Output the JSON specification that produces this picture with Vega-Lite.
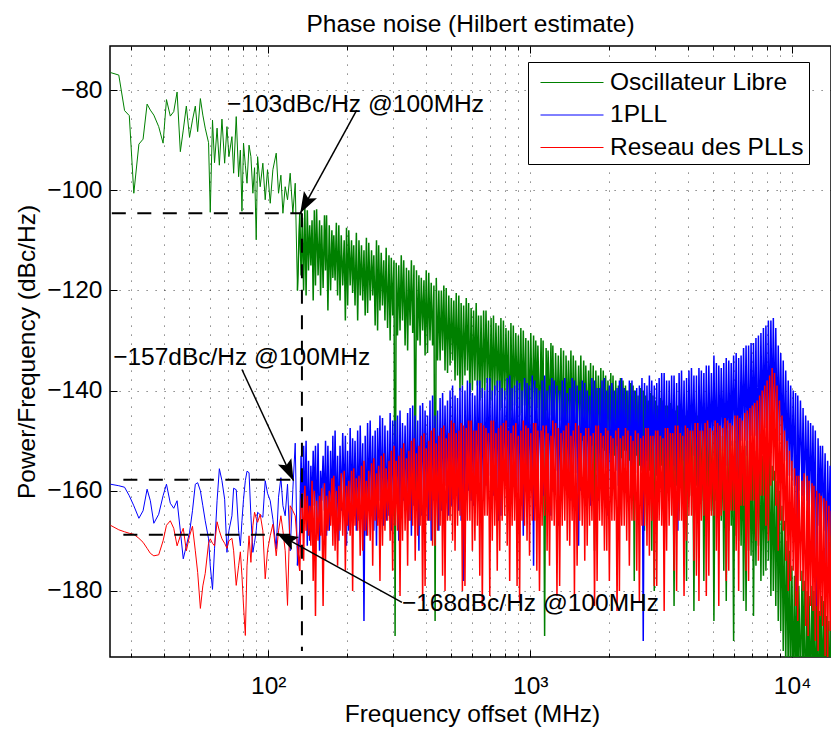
{
"$schema":"https://vega.github.io/schema/vega-lite/v6.json",
"width":721,"height":611,
"autosize":{"type":"none"},
"padding":{"left":110,"top":46,"right":0,"bottom":72},
"background":"white",
"title":{"text":"Phase noise (Hilbert estimate)","fontSize":24.5,"fontWeight":"normal","font":"Liberation Sans","color":"black","baseline":"alphabetic","offset":14,"dy":25,"anchor":"middle","frame":"group"},
"resolve":{"axis":{"x":"independent","y":"independent"}},
"config":{
"font":"Liberation Sans",
"view":{"stroke":"black","strokeWidth":1.5},
"axis":{"labelFont":"Liberation Sans","labelFontSize":24.5,"labelColor":"black","titleFont":"Liberation Sans","titleFontSize":24.5,"titleFontWeight":"normal","titleColor":"black","gridColor":"#000","gridDash":[1.2,7.8],"gridOpacity":0.6,"gridWidth":1,"tickColor":"black","tickWidth":1,"domain":false},
"legend":{"orient":"none","legendX":418,"legendY":16,"symbolType":"M-2.1,0H2.1","symbolSize":900,"symbolStrokeWidth":1,"symbolOffset":23.5,"labelOffset":22.5,"labelFontSize":24.5,"labelFont":"Liberation Sans","labelColor":"black","strokeColor":"black","fillColor":"white","padding":5,"rowPadding":5.5,"labelLimit":400}
},
"datasets":{
"noise":[
{"f":25.0,"g":-76.5,"b":-158.7,"r":-166.9},
{"f":26.9,"g":-77.0,"b":-159.0,"r":-167.8},
{"f":28.3,"g":-84.1,"b":-159.3,"r":-168.2},
{"f":29.5,"g":-85.1,"b":-161.0,"r":-168.5},
{"f":30.7,"g":-100.6,"b":-163.0,"r":-168.7},
{"f":32.1,"g":-90.8,"b":-165.5,"r":-169.5},
{"f":33.3,"g":-89.8,"b":-164.0,"r":-170.3},
{"f":34.5,"g":-82.8,"b":-159.7,"r":-171.5},
{"f":35.5,"g":-84.0,"b":-162.0,"r":-172.5},
{"f":36.6,"g":-85.0,"b":-166.5,"r":-173.0},
{"f":38.2,"g":-87.3,"b":-164.7,"r":-172.8},
{"f":39.7,"g":-90.6,"b":-161.0,"r":-170.0},
{"f":40.9,"g":-81.9,"b":-158.7,"r":-166.9},
{"f":42.3,"g":-85.2,"b":-162.5,"r":-166.0},
{"f":43.6,"g":-84.3,"b":-163.5,"r":-167.5},
{"f":44.9,"g":-80.4,"b":-162.0,"r":-171.0},
{"f":46.2,"g":-92.3,"b":-168.0,"r":-169.0},
{"f":47.4,"g":-88.0,"b":-173.6,"r":-167.5},
{"f":48.7,"g":-83.2,"b":-171.0,"r":-172.0},
{"f":50.1,"g":-89.4,"b":-168.3,"r":-169.0},
{"f":51.4,"g":-86.0,"b":-164.0,"r":-167.1},
{"f":52.7,"g":-83.2,"b":-158.7,"r":-172.0},
{"f":53.8,"g":-88.3,"b":-158.4,"r":-176.3},
{"f":55.1,"g":-81.7,"b":-160.0,"r":-183.5},
{"f":56.3,"g":-85.0,"b":-163.0,"r":-179.0},
{"f":57.5,"g":-87.6,"b":-166.0,"r":-176.5},
{"f":59.2,"g":-90.5,"b":-169.6,"r":-170.5},
{"f":60.1,"g":-104.4,"b":-175.0,"r":-169.6},
{"f":61.3,"g":-86.0,"b":-179.7,"r":-170.5},
{"f":62.4,"g":-94.5,"b":-171.6,"r":-171.0},
{"f":63.8,"g":-87.6,"b":-162.0,"r":-166.2},
{"f":65.1,"g":-95.0,"b":-155.6,"r":-168.0},
{"f":66.6,"g":-85.8,"b":-158.0,"r":-169.6},
{"f":68.2,"g":-94.6,"b":-161.7,"r":-170.5},
{"f":69.6,"g":-87.3,"b":-172.3,"r":-171.5},
{"f":70.8,"g":-93.3,"b":-168.0,"r":-170.0},
{"f":72.7,"g":-89.3,"b":-165.0,"r":-169.5},
{"f":73.8,"g":-96.6,"b":-159.5,"r":-172.0},
{"f":75.5,"g":-85.3,"b":-159.8,"r":-178.9},
{"f":77.1,"g":-97.3,"b":-168.0,"r":-175.0},
{"f":78.3,"g":-92.0,"b":-171.0,"r":-172.2},
{"f":79.4,"g":-104.2,"b":-166.0,"r":-177.0},
{"f":80.5,"g":-90.6,"b":-161.7,"r":-183.0},
{"f":81.8,"g":-95.0,"b":-158.0,"r":-188.9},
{"f":83.0,"g":-98.6,"b":-156.1,"r":-175.0},
{"f":84.5,"g":-91.0,"b":-156.4,"r":-169.0},
{"f":85.9,"g":-93.3,"b":-165.0,"r":-174.3},
{"f":87.4,"g":-100.6,"b":-172.3,"r":-167.0},
{"f":88.7,"g":-95.5,"b":-170.3,"r":-164.3},
{"f":90.0,"g":-109.9,"b":-168.0,"r":-165.5},
{"f":91.1,"g":-93.3,"b":-164.3,"r":-166.3},
{"f":93.2,"g":-99.3,"b":-164.8,"r":-164.7},
{"f":95.4,"g":-94.6,"b":-165.3,"r":-168.0},
{"f":97.4,"g":-101.9,"b":-158.0,"r":-177.6},
{"f":99.4,"g":-95.9,"b":-160.5,"r":-172.0},
{"f":101.8,"g":-102.6,"b":-162.0,"r":-169.0},
{"f":104.2,"g":-95.9,"b":-165.7,"r":-166.7},
{"f":107.3,"g":-92.6,"b":-171.6,"r":-173.0},
{"f":109.5,"g":-100.6,"b":-161.3,"r":-168.0},
{"f":111.8,"g":-97.0,"b":-157.4,"r":-165.0},
{"f":113.8,"g":-104.6,"b":-163.0,"r":-168.0},
{"f":116.1,"g":-99.3,"b":-165.0,"r":-172.0},
{"f":118.5,"g":-101.9,"b":-158.7,"r":-182.9},
{"f":121.3,"g":-96.6,"b":-172.0,"r":-163.0},
{"f":124.2,"g":-104.6,"b":-159.7,"r":-164.0},
{"f":126.8,"g":-98.6,"b":-150.5,"r":-165.0},
{"f":129.3,"g":-120.0,"b":-174.9,"r":-171.0},
{"f":132,"g":-104.6,"b":-168,"r":-176},
{"f":133.5,"g":-117,"b":-153,"r":-162},
{"f":135,"g":-105.5,"b":-166,"r":-160.5},
{"f":136.5,"g":-120,"b":-151,"r":-174},
{"f":138,"g":-103.5,"b":-165,"r":-159},
{"f":139.5,"g":-121,"b":-150,"r":-168},
{"f":141,"g":-104,"b":-171,"r":-161},
{"f":142.5,"g":-116,"b":-154,"r":-169},
{"f":144,"g":-107,"b":-170,"r":-163},
{"f":145.5,"g":-115,"b":-155,"r":-171},
{"f":147,"g":-106,"b":-164,"r":-158},
{"f":148.5,"g":-122,"b":-152,"r":-178},
{"f":150,"g":-104,"b":-163,"r":-160},
{"f":151.5,"g":-119,"b":-151,"r":-185},
{"f":153,"g":-103.8,"b":-168,"r":-162},
{"f":155,"g":-117,"b":-150.5,"r":-170},
{"f":157,"g":-106,"b":-172,"r":-161},
{"f":158.5,"g":-121,"b":-156,"r":-169},
{"f":160,"g":-107,"b":-162,"r":-159.5},
{"f":162,"g":-119.5,"b":-153,"r":-183},
{"f":164,"g":-105,"b":-164,"r":-158.5},
{"f":165.5,"g":-116,"b":-150,"r":-174},
{"f":167,"g":-105,"b":-169,"r":-161},
{"f":169,"g":-124,"b":-151,"r":-168},
{"f":171,"g":-107,"b":-168,"r":-160},
{"f":173,"g":-120,"b":-152,"r":-167},
{"f":175,"g":-108,"b":-165,"r":-157.5},
{"f":176.5,"g":-117.5,"b":-149,"r":-171},
{"f":178,"g":-109,"b":-166,"r":-157},
{"f":180,"g":-118,"b":-148,"r":-172},
{"f":182,"g":-106.5,"b":-167,"r":-160},
{"f":184,"g":-121,"b":-153,"r":-175},
{"f":186,"g":-107,"b":-170,"r":-159},
{"f":188,"g":-122,"b":-151,"r":-168},
{"f":190,"g":-109,"b":-164,"r":-156.5},
{"f":192.5,"g":-119,"b":-148.5,"r":-169},
{"f":195,"g":-110,"b":-163,"r":-156},
{"f":197,"g":-126,"b":-149,"r":-176},
{"f":199,"g":-107.5,"b":-171,"r":-159},
{"f":201,"g":-123,"b":-152,"r":-167},
{"f":203,"g":-108,"b":-168,"r":-158},
{"f":205.5,"g":-119,"b":-147.5,"r":-169},
{"f":208,"g":-110,"b":-165,"r":-156},
{"f":210,"g":-120.5,"b":-149.5,"r":-180},
{"f":212,"g":-111,"b":-165,"r":-155.5},
{"f":214.5,"g":-123,"b":-150,"r":-167},
{"f":217,"g":-108.5,"b":-168,"r":-157.5},
{"f":219.5,"g":-126,"b":-148,"r":-168},
{"f":222,"g":-110,"b":-166,"r":-157},
{"f":224.5,"g":-121,"b":-147,"r":-173},
{"f":227,"g":-111,"b":-163,"r":-155},
{"f":229.5,"g":-122,"b":-150.5,"r":-172},
{"f":232,"g":-112,"b":-186,"r":-154},
{"f":234.5,"g":-125,"b":-149,"r":-168},
{"f":237,"g":-109.5,"b":-169,"r":-158},
{"f":239.5,"g":-124.5,"b":-146.5,"r":-169},
{"f":242,"g":-110.5,"b":-164,"r":-156},
{"f":245,"g":-122,"b":-146,"r":-170},
{"f":248,"g":-112,"b":-165,"r":-154.5},
{"f":250.5,"g":-121,"b":-149,"r":-175},
{"f":253,"g":-113,"b":-168,"r":-153.5},
{"f":256,"g":-127,"b":-148,"r":-166},
{"f":259,"g":-110,"b":-171,"r":-156.5},
{"f":261.5,"g":-128,"b":-147.5,"r":-167},
{"f":264,"g":-111,"b":-162,"r":-155},
{"f":267,"g":-124,"b":-145,"r":-178},
{"f":270,"g":-112.5,"b":-164,"r":-153},
{"f":273,"g":-123,"b":-145.5,"r":-171},
{"f":276,"g":-114,"b":-167,"r":-152.5},
{"f":279,"g":-126,"b":-147,"r":-168},
{"f":282,"g":-111.5,"b":-166,"r":-155.5},
{"f":285.5,"g":-127.5,"b":-148,"r":-166},
{"f":289,"g":-113,"b":-165,"r":-154},
{"f":292,"g":-130,"b":-144.5,"r":-170},
{"f":295,"g":-113.5,"b":-168,"r":-152},
{"f":298.5,"g":-125,"b":-146,"r":-176},
{"f":302,"g":-114,"b":-163,"r":-151},
{"f":305,"g":-189,"b":-146,"r":-167},
{"f":308,"g":-114.5,"b":-162,"r":-154},
{"f":311.5,"g":-129,"b":-145,"r":-168},
{"f":315,"g":-115,"b":-170,"r":-153},
{"f":318.5,"g":-128,"b":-144,"r":-181},
{"f":322,"g":-113,"b":-165,"r":-151.5},
{"f":325.5,"g":-126,"b":-146.5,"r":-170},
{"f":329,"g":-114,"b":-162,"r":-150.5},
{"f":333,"g":-131,"b":-147,"r":-168},
{"f":337,"g":-115.5,"b":-163,"r":-153.5},
{"f":340.5,"g":-132,"b":-144.5,"r":-175},
{"f":344,"g":-116,"b":-166,"r":-152},
{"f":348,"g":-127,"b":-143.5,"r":-166},
{"f":352,"g":-114,"b":-169,"r":-150},
{"f":356,"g":-128.5,"b":-143,"r":-167},
{"f":360,"g":-115,"b":-163,"r":-149.5},
{"f":364,"g":-162,"b":-145,"r":-174},
{"f":368,"g":-116,"b":-161,"r":-152.5},
{"f":372,"g":-130,"b":-146,"r":-169},
{"f":376,"g":-117,"b":-172,"r":-151},
{"f":380,"g":-131,"b":-143,"r":-167},
{"f":384,"g":-117.5,"b":-165,"r":-149},
{"f":388.5,"g":-128,"b":-142.5,"r":-182},
{"f":393,"g":-118,"b":-161,"r":-148.5},
{"f":397,"g":-133,"b":-144,"r":-179},
{"f":401,"g":-116,"b":-162,"r":-151.5},
{"f":405.5,"g":-132.5,"b":-145,"r":-166},
{"f":410,"g":-116.5,"b":-166,"r":-150},
{"f":414.5,"g":-130,"b":-142,"r":-166},
{"f":419,"g":-118.5,"b":-170,"r":-148},
{"f":424,"g":-131,"b":-141,"r":-171},
{"f":429,"g":-119,"b":-162,"r":-147.5},
{"f":433.5,"g":-186,"b":-145,"r":-171},
{"f":438,"g":-117.5,"b":-161,"r":-150.5},
{"f":443,"g":-134,"b":-144,"r":-168},
{"f":448,"g":-120,"b":-168,"r":-149},
{"f":453,"g":-134,"b":-141.5,"r":-167},
{"f":458,"g":-120,"b":-164,"r":-147.5},
{"f":463,"g":-132,"b":-140.5,"r":-177},
{"f":468,"g":-119,"b":-160,"r":-147},
{"f":473,"g":-136,"b":-143,"r":-180},
{"f":478,"g":-119.5,"b":-159,"r":-149.5},
{"f":483.5,"g":-136.5,"b":-142,"r":-166},
{"f":489,"g":-121,"b":-165,"r":-148.5},
{"f":494.5,"g":-135,"b":-140,"r":-166},
{"f":500,"g":-121.5,"b":-163,"r":-146},
{"f":505.5,"g":-134,"b":-139,"r":-170},
{"f":511,"g":-122,"b":-161,"r":-146.5},
{"f":516.5,"g":-138,"b":-141,"r":-172},
{"f":522,"g":-120.5,"b":-160,"r":-148.5},
{"f":528,"g":-137,"b":-141.5,"r":-167},
{"f":534,"g":-121,"b":-164,"r":-148},
{"f":539.5,"g":-140,"b":-139.5,"r":-165},
{"f":545,"g":-122.5,"b":-166,"r":-146.5},
{"f":551,"g":-139,"b":-139,"r":-180},
{"f":557,"g":-123,"b":-178,"r":-147},
{"f":563.5,"g":-137,"b":-140,"r":-179},
{"f":570,"g":-121.5,"b":-159,"r":-147.5},
{"f":576,"g":-136,"b":-138,"r":-166},
{"f":582,"g":-122.5,"b":-160,"r":-146},
{"f":588.5,"g":-141,"b":-138.5,"r":-166},
{"f":595,"g":-123.5,"b":-162,"r":-146},
{"f":601.5,"g":-140,"b":-140.5,"r":-172},
{"f":608,"g":-124,"b":-163,"r":-148},
{"f":615,"g":-138,"b":-141,"r":-170},
{"f":622,"g":-122.5,"b":-157.5,"r":-148},
{"f":628.5,"g":-139,"b":-138,"r":-167},
{"f":635,"g":-125,"b":-158,"r":-146.5},
{"f":642,"g":-142,"b":-138,"r":-177},
{"f":649,"g":-125,"b":-164,"r":-146.5},
{"f":656.5,"g":-141.5,"b":-139.5,"r":-183},
{"f":664,"g":-124,"b":-162,"r":-147},
{"f":671,"g":-140,"b":-140,"r":-165},
{"f":678,"g":-124,"b":-159,"r":-147.5},
{"f":685.5,"g":-138.5,"b":-137.5,"r":-165},
{"f":693,"g":-126,"b":-157,"r":-148.5},
{"f":701,"g":-143,"b":-137.5,"r":-181},
{"f":709,"g":-125.5,"b":-162,"r":-146},
{"f":716.5,"g":-142,"b":-140,"r":-170},
{"f":724,"g":-125,"b":-161,"r":-146},
{"f":732,"g":-141,"b":-139,"r":-167},
{"f":740,"g":-126.5,"b":-158,"r":-148.5},
{"f":748.5,"g":-140,"b":-138,"r":-176},
{"f":757,"g":-127,"b":-166,"r":-147.5},
{"f":765,"g":-144,"b":-138,"r":-172},
{"f":773,"g":-125.5,"b":-165,"r":-147},
{"f":781.5,"g":-143.5,"b":-139.5,"r":-166},
{"f":790,"g":-126,"b":-158,"r":-146.5},
{"f":799,"g":-142,"b":-140,"r":-165},
{"f":808,"g":-127.5,"b":-157,"r":-146},
{"f":817,"g":-141,"b":-137.5,"r":-171},
{"f":826,"g":-128,"b":-163,"r":-148},
{"f":835,"g":-152,"b":-137,"r":-178},
{"f":844,"g":-126.5,"b":-161,"r":-148.5},
{"f":853,"g":-144,"b":-139.5,"r":-167},
{"f":862,"g":-127,"b":-157,"r":-147},
{"f":871.5,"g":-143,"b":-139,"r":-166},
{"f":881,"g":-128.5,"b":-158.5,"r":-146.5},
{"f":891,"g":-142.5,"b":-138,"r":-179},
{"f":901,"g":-129,"b":-160,"r":-149},
{"f":911,"g":-145,"b":-138.5,"r":-182},
{"f":921,"g":-127.5,"b":-163,"r":-148},
{"f":931,"g":-144.5,"b":-140,"r":-166},
{"f":941,"g":-128,"b":-169,"r":-146},
{"f":951.5,"g":-143,"b":-137.5,"r":-167},
{"f":962,"g":-129.5,"b":-157,"r":-147},
{"f":972.5,"g":-160,"b":-138.5,"r":-170},
{"f":983,"g":-130,"b":-158,"r":-147.5},
{"f":994,"g":-146,"b":-139,"r":-173},
{"f":1005,"g":-128.5,"b":-160,"r":-148.5},
{"f":1018,"g":-145,"b":-137,"r":-166},
{"f":1030,"g":-129,"b":-175,"r":-146.5},
{"f":1040,"g":-144,"b":-138,"r":-166},
{"f":1050,"g":-130,"b":-156.5,"r":-146.5},
{"f":1060,"g":-143.5,"b":-139.5,"r":-176},
{"f":1070,"g":-131,"b":-157,"r":-148},
{"f":1085,"g":-147,"b":-140,"r":-180},
{"f":1100,"g":-129.5,"b":-162,"r":-148},
{"f":1110,"g":-146.5,"b":-138,"r":-167},
{"f":1120,"g":-130,"b":-161,"r":-147},
{"f":1135,"g":-189,"b":-137,"r":-165},
{"f":1150,"g":-131.5,"b":-158,"r":-147},
{"f":1160,"g":-144,"b":-140,"r":-172},
{"f":1170,"g":-132,"b":-156,"r":-148.5},
{"f":1185,"g":-145,"b":-139,"r":-175},
{"f":1200,"g":-130.5,"b":-165,"r":-149},
{"f":1210,"g":-147.5,"b":-137.5,"r":-166},
{"f":1220,"g":-131,"b":-160,"r":-146},
{"f":1235,"g":-148,"b":-138,"r":-167},
{"f":1250,"g":-132.5,"b":-156,"r":-146.5},
{"f":1265,"g":-145.5,"b":-139,"r":-181},
{"f":1280,"g":-133,"b":-167,"r":-147.5},
{"f":1295,"g":-146,"b":-140,"r":-179},
{"f":1310,"g":-131.5,"b":-159,"r":-148.5},
{"f":1325,"g":-148,"b":-138,"r":-167},
{"f":1340,"g":-132,"b":-157,"r":-148},
{"f":1355,"g":-160,"b":-137.5,"r":-166},
{"f":1370,"g":-133,"b":-157,"r":-147},
{"f":1385,"g":-146.5,"b":-140.5,"r":-170},
{"f":1400,"g":-134,"b":-159,"r":-146.5},
{"f":1415,"g":-147,"b":-139.5,"r":-171},
{"f":1430,"g":-132,"b":-162,"r":-149},
{"f":1445,"g":-149,"b":-137.5,"r":-166},
{"f":1460,"g":-133,"b":-156,"r":-148},
{"f":1475,"g":-149,"b":-138,"r":-181},
{"f":1490,"g":-134,"b":-156.5,"r":-146.5},
{"f":1510,"g":-147.5,"b":-139,"r":-175},
{"f":1530,"g":-135,"b":-171,"r":-147},
{"f":1545,"g":-148,"b":-140,"r":-166},
{"f":1560,"g":-133,"b":-160,"r":-148.5},
{"f":1580,"g":-150,"b":-138,"r":-167},
{"f":1600,"g":-134,"b":-157,"r":-149},
{"f":1615,"g":-150,"b":-138.5,"r":-174},
{"f":1630,"g":-135,"b":-157,"r":-147.5},
{"f":1650,"g":-148,"b":-140,"r":-171},
{"f":1670,"g":-136,"b":-160,"r":-147.5},
{"f":1685,"g":-149,"b":-141,"r":-167},
{"f":1700,"g":-134.5,"b":-163,"r":-149},
{"f":1720,"g":-151,"b":-137.5,"r":-166},
{"f":1740,"g":-135,"b":-155,"r":-148.5},
{"f":1760,"g":-172,"b":-138,"r":-183},
{"f":1780,"g":-136,"b":-156,"r":-147},
{"f":1800,"g":-149,"b":-139.5,"r":-178},
{"f":1820,"g":-137,"b":-162,"r":-147},
{"f":1840,"g":-150,"b":-139.5,"r":-166},
{"f":1860,"g":-135.5,"b":-159,"r":-148.5},
{"f":1880,"g":-151.5,"b":-138,"r":-167},
{"f":1900,"g":-136,"b":-157,"r":-149},
{"f":1920,"g":-152,"b":-137.5,"r":-172},
{"f":1940,"g":-137,"b":-155.5,"r":-147.5},
{"f":1960,"g":-150,"b":-140,"r":-172},
{"f":1980,"g":-138,"b":-165,"r":-148},
{"f":2005,"g":-151,"b":-139,"r":-178},
{"f":2030,"g":-136.5,"b":-161,"r":-149},
{"f":2050,"g":-153,"b":-138.5,"r":-166},
{"f":2070,"g":-137,"b":-156,"r":-149.5},
{"f":2095,"g":-153,"b":-140,"r":-166},
{"f":2120,"g":-138,"b":-156,"r":-148},
{"f":2145,"g":-151,"b":-139.5,"r":-184},
{"f":2170,"g":-139,"b":-159,"r":-147.5},
{"f":2190,"g":-165,"b":-138,"r":-180},
{"f":2210,"g":-137.5,"b":-158,"r":-149.5},
{"f":2235,"g":-153.5,"b":-137.5,"r":-167},
{"f":2260,"g":-138,"b":-155,"r":-149},
{"f":2285,"g":-152,"b":-139.5,"r":-167},
{"f":2310,"g":-139,"b":-155,"r":-147.5},
{"f":2335,"g":-152,"b":-140,"r":-170},
{"f":2360,"g":-140,"b":-161,"r":-148},
{"f":2390,"g":-154,"b":-138,"r":-175},
{"f":2420,"g":-138.5,"b":-160,"r":-149},
{"f":2445,"g":-155,"b":-138,"r":-166},
{"f":2470,"g":-139,"b":-156,"r":-150},
{"f":2495,"g":-178,"b":-140,"r":-166},
{"f":2520,"g":-140,"b":-156.5,"r":-148},
{"f":2550,"g":-153,"b":-139.5,"r":-176},
{"f":2580,"g":-141,"b":-158,"r":-148.5},
{"f":2610,"g":-155,"b":-139,"r":-182},
{"f":2640,"g":-139.5,"b":-155,"r":-149.5},
{"f":2670,"g":-156,"b":-137.5,"r":-167},
{"f":2700,"g":-140,"b":-190,"r":-149},
{"f":2730,"g":-168,"b":-138.5,"r":-167},
{"f":2760,"g":-141,"b":-159,"r":-147.5},
{"f":2790,"g":-154,"b":-139,"r":-171},
{"f":2820,"g":-142,"b":-157,"r":-147.5},
{"f":2850,"g":-156,"b":-137,"r":-173},
{"f":2880,"g":-140.5,"b":-154.5,"r":-149},
{"f":2910,"g":-172,"b":-138,"r":-166},
{"f":2940,"g":-141,"b":-155,"r":-149},
{"f":2975,"g":-180,"b":-139,"r":-179},
{"f":3010,"g":-142,"b":-157,"r":-148},
{"f":3040,"g":-157,"b":-138.5,"r":-179},
{"f":3070,"g":-143,"b":-160,"r":-148},
{"f":3105,"g":-157,"b":-137.5,"r":-166},
{"f":3140,"g":-141.5,"b":-155,"r":-149},
{"f":3175,"g":-155,"b":-136.5,"r":-167},
{"f":3210,"g":-142,"b":-154,"r":-149.5},
{"f":3245,"g":-170,"b":-136.5,"r":-184},
{"f":3280,"g":-143,"b":-160,"r":-147.5},
{"f":3315,"g":-158,"b":-138,"r":-172},
{"f":3350,"g":-143,"b":-158,"r":-147.5},
{"f":3390,"g":-158,"b":-138,"r":-167},
{"f":3430,"g":-142.5,"b":-154,"r":-148.5},
{"f":3465,"g":-156.5,"b":-137,"r":-165},
{"f":3500,"g":-144,"b":-155,"r":-148.5},
{"f":3540,"g":-183,"b":-137,"r":-176},
{"f":3580,"g":-144,"b":-156,"r":-147},
{"f":3620,"g":-159,"b":-138.5,"r":-180},
{"f":3660,"g":-143,"b":-168,"r":-147},
{"f":3700,"g":-159,"b":-136.5,"r":-166},
{"f":3740,"g":-143.5,"b":-153.5,"r":-148.5},
{"f":3780,"g":-157.5,"b":-136,"r":-166},
{"f":3820,"g":-145,"b":-154,"r":-149},
{"f":3865,"g":-175,"b":-138,"r":-181},
{"f":3910,"g":-145,"b":-158,"r":-147},
{"f":3950,"g":-178,"b":-137.5,"r":-170},
{"f":3990,"g":-144,"b":-157,"r":-147.5},
{"f":4035,"g":-160,"b":-136,"r":-165},
{"f":4080,"g":-144.5,"b":-154,"r":-148},
{"f":4125,"g":-161,"b":-135.5,"r":-165},
{"f":4170,"g":-146,"b":-153,"r":-148},
{"f":4215,"g":-184,"b":-137,"r":-174},
{"f":4260,"g":-146,"b":-155.5,"r":-146.5},
{"f":4310,"g":-159,"b":-137,"r":-177},
{"f":4360,"g":-145,"b":-162,"r":-146.5},
{"f":4405,"g":-161,"b":-135.5,"r":-182},
{"f":4450,"g":-145.5,"b":-153,"r":-148},
{"f":4500,"g":-162,"b":-136,"r":-166},
{"f":4550,"g":-147,"b":-154,"r":-148},
{"f":4600,"g":-178,"b":-136.5,"r":-165},
{"f":4650,"g":-147,"b":-157,"r":-146.5},
{"f":4700,"g":-160,"b":-135,"r":-181},
{"f":4750,"g":-146,"b":-156,"r":-146},
{"f":4805,"g":-163,"b":-135,"r":-177},
{"f":4860,"g":-146.5,"b":-152.5,"r":-147.5},
{"f":4915,"g":-164,"b":-136.5,"r":-165},
{"f":4970,"g":-148,"b":-153,"r":-148},
{"f":5025,"g":-186,"b":-133,"r":-165},
{"f":5080,"g":-148,"b":-155,"r":-146},
{"f":5135,"g":-162,"b":-134.5,"r":-172},
{"f":5190,"g":-147,"b":-158,"r":-146.5},
{"f":5245,"g":-165,"b":-135,"r":-183},
{"f":5300,"g":-147.5,"b":-151.5,"r":-147},
{"f":5360,"g":-166,"b":-135.5,"r":-165},
{"f":5420,"g":-149,"b":-152,"r":-147.5},
{"f":5480,"g":-176,"b":-134.5,"r":-164},
{"f":5540,"g":-149,"b":-157,"r":-145.5},
{"f":5600,"g":-182,"b":-133.5,"r":-178},
{"f":5660,"g":-148,"b":-155,"r":-146},
{"f":5725,"g":-168,"b":-134,"r":-176},
{"f":5790,"g":-148.5,"b":-152,"r":-146.5},
{"f":5850,"g":-167,"b":-134.5,"r":-164},
{"f":5910,"g":-150,"b":-151,"r":-147},
{"f":5975,"g":-190,"b":-133,"r":-164},
{"f":6040,"g":-150,"b":-150.5,"r":-145},
{"f":6110,"g":-169,"b":-132.5,"r":-172},
{"f":6180,"g":-149,"b":-160,"r":-145},
{"f":6245,"g":-170,"b":-133.5,"r":-180},
{"f":6310,"g":-149.5,"b":-155,"r":-145.5},
{"f":6380,"g":-171,"b":-133,"r":-163},
{"f":6450,"g":-151,"b":-150,"r":-146},
{"f":6520,"g":-182,"b":-131.5,"r":-163},
{"f":6590,"g":-151,"b":-150,"r":-144.5},
{"f":6665,"g":-184,"b":-131,"r":-176},
{"f":6740,"g":-150,"b":-153,"r":-144},
{"f":6815,"g":-172,"b":-131,"r":-178},
{"f":6890,"g":-150.5,"b":-153,"r":-143.5},
{"f":6965,"g":-173,"b":-130.5,"r":-162},
{"f":7040,"g":-152,"b":-149,"r":-143},
{"f":7115,"g":-185,"b":-130.5,"r":-162},
{"f":7190,"g":-152,"b":-149,"r":-142.5},
{"f":7270,"g":-175,"b":-129.5,"r":-170},
{"f":7350,"g":-151,"b":-155,"r":-142},
{"f":7430,"g":-171,"b":-129,"r":-174},
{"f":7510,"g":-151.5,"b":-152,"r":-141},
{"f":7595,"g":-178,"b":-128.5,"r":-161},
{"f":7680,"g":-153,"b":-148,"r":-140},
{"f":7765,"g":-177,"b":-127.5,"r":-161},
{"f":7850,"g":-153,"b":-147.5,"r":-139},
{"f":7935,"g":-176,"b":-127,"r":-167},
{"f":8020,"g":-152,"b":-151,"r":-138},
{"f":8110,"g":-174,"b":-126,"r":-170},
{"f":8200,"g":-152.5,"b":-149,"r":-137},
{"f":8290,"g":-181,"b":-126,"r":-159},
{"f":8380,"g":-155,"b":-146,"r":-135.5},
{"f":8470,"g":-180,"b":-125.5,"r":-158},
{"f":8560,"g":-156,"b":-147,"r":-136.5},
{"f":8655,"g":-183,"b":-127.5,"r":-163},
{"f":8750,"g":-158,"b":-150,"r":-139},
{"f":8845,"g":-186,"b":-131,"r":-172},
{"f":8940,"g":-160,"b":-150,"r":-142},
{"f":9040,"g":-188,"b":-132.5,"r":-166},
{"f":9140,"g":-163,"b":-153,"r":-145},
{"f":9240,"g":-192,"b":-134,"r":-168},
{"f":9340,"g":-166,"b":-154,"r":-148},
{"f":9445,"g":-195,"b":-136,"r":-174},
{"f":9550,"g":-170,"b":-156,"r":-150},
{"f":9655,"g":-198,"b":-138,"r":-180},
{"f":9760,"g":-172,"b":-157,"r":-152},
{"f":9865,"g":-199,"b":-139,"r":-178},
{"f":9970,"g":-175,"b":-158,"r":-154},
{"f":10085,"g":-200,"b":-140,"r":-176},
{"f":10200,"g":-177,"b":-159,"r":-155.5},
{"f":10300,"g":-202,"b":-140.5,"r":-183},
{"f":10400,"g":-178,"b":-180,"r":-157},
{"f":10500,"g":-203,"b":-141,"r":-186},
{"f":10600,"g":-179,"b":-160,"r":-157},
{"f":10750,"g":-199,"b":-142,"r":-178},
{"f":10900,"g":-176,"b":-161,"r":-158},
{"f":11000,"g":-200,"b":-143.5,"r":-180},
{"f":11100,"g":-178,"b":-163,"r":-156.5},
{"f":11250,"g":-204,"b":-145,"r":-187},
{"f":11400,"g":-180,"b":-162,"r":-157},
{"f":11500,"g":-205,"b":-146,"r":-189},
{"f":11600,"g":-181,"b":-165,"r":-158},
{"f":11750,"g":-201,"b":-146.5,"r":-183},
{"f":11900,"g":-179,"b":-164,"r":-158.5},
{"f":12000,"g":-200,"b":-147,"r":-184},
{"f":12100,"g":-180,"b":-166.5,"r":-159},
{"f":12250,"g":-203,"b":-148,"r":-190},
{"f":12400,"g":-183,"b":-183,"r":-160},
{"f":12550,"g":-204,"b":-149.5,"r":-192},
{"f":12700,"g":-184,"b":-167,"r":-160.5},
{"f":12800,"g":-205,"b":-151,"r":-185},
{"f":12900,"g":-181,"b":-166,"r":-161},
{"f":13050,"g":-201,"b":-151,"r":-187},
{"f":13200,"g":-182,"b":-168,"r":-161.5},
{"f":13350,"g":-207,"b":-152.5,"r":-193},
{"f":13500,"g":-185,"b":-178,"r":-162},
{"f":13650,"g":-206,"b":-154,"r":-195},
{"f":13800,"g":-186,"b":-170,"r":-163},
{"f":13950,"g":-204,"b":-155,"r":-188},
{"f":14100,"g":-184,"b":-169,"r":-164}
],
"dashes":[
{"x1":25.3,"x2":134.5,"y1":-104.6,"y2":-104.6},
{"x1":134.5,"x2":134.5,"y1":-104.6,"y2":-192},
{"x1":28,"x2":134.5,"y1":-157.8,"y2":-157.8},
{"x1":28,"x2":134.5,"y1":-168.8,"y2":-168.8}
],
"arrows":[
{"id":"a1","x1":217.7,"y1":-84.0,"x2":132.5,"y2":-104.6},
{"id":"a2","x1":79.4,"y1":-135.8,"x2":124.9,"y2":-158.0},
{"id":"a3","x1":323.9,"y1":-182.3,"x2":107.9,"y2":-168.5}
],
"labels":[
{"x":69.6,"y":-84.3,"t":"−103dBc/Hz @100MHz"},
{"x":25.6,"y":-134.8,"t":"−157dBc/Hz @100MHz"},
{"x":323.9,"y":-184.1,"t":"−168dBc/Hz @100MHz"}
]
},
"layer":[
{"data":{"name":"noise"},
"transform":[{"filter":"datum.f <= 132"}],
"mark":{"type":"line","strokeWidth":1,"clip":true},
"encoding":{
"x":{"field":"f","type":"quantitative","scale":{"type":"log","domain":[24.9,14060],"nice":false},
"axis":{"orient":"bottom","values":[30,40,50,60,70,80,90,100,200,300,400,500,600,700,800,900,1000,2000,3000,4000,5000,6000,7000,8000,9000,10000],"grid":true,
"tickSize":{"condition":{"test":"datum.value==100||datum.value==1000||datum.value==10000","value":-7},"value":-4},
"labelExpr":"datum.value==100?'10²':datum.value==1000?'10³':datum.value==10000?'10⁴':''",
"labelBaseline":"alphabetic","labelPadding":43.5,"labelFlush":false,"labelOverlap":false,
"title":"Frequency offset (MHz)","titleX":362,"titleY":64,"titleBaseline":"alphabetic","titleAlign":"center"}},
"y":{"field":"g","type":"quantitative","scale":{"domain":[-193.2,-71.2],"nice":false,"zero":false},
"axis":{"orient":"left","values":[-180,-160,-140,-120,-100,-80],"grid":true,"tickSize":-7,"labelPadding":15,
"title":"Power/Frequency (dBc/Hz)","titleX":-76,"titleY":305.5,"titleAngle":270,"titleAlign":"center","titleBaseline":"alphabetic"}},
"color":{"datum":"Oscillateur Libre","type":"nominal","scale":{"domain":["Oscillateur Libre","1PLL","Reseau des PLLs"],"range":["#008000","#0000ff","#ff0000"]},"legend":{"title":null,"symbolStrokeWidth":1}}
}},
{"data":{"name":"noise"},
"transform":[{"filter":"datum.f >= 129"}],
"mark":{"type":"line","strokeWidth":1.5,"clip":true},
"encoding":{
"x":{"field":"f","type":"quantitative","scale":{"type":"log","domain":[24.9,14060],"nice":false},"axis":null},
"y":{"field":"g","type":"quantitative","scale":{"domain":[-193.2,-71.2],"nice":false,"zero":false},"axis":null},
"color":{"datum":"Oscillateur Libre","type":"nominal","scale":{"domain":["Oscillateur Libre","1PLL","Reseau des PLLs"],"range":["#008000","#0000ff","#ff0000"]},"legend":null}
}},
{"data":{"name":"noise"},
"transform":[{"filter":"datum.f <= 132"}],
"mark":{"type":"line","strokeWidth":1,"clip":true},
"encoding":{
"x":{"field":"f","type":"quantitative","scale":{"type":"log","domain":[24.9,14060],"nice":false},"axis":null},
"y":{"field":"b","type":"quantitative","scale":{"domain":[-193.2,-71.2],"nice":false,"zero":false},"axis":null},
"color":{"datum":"1PLL","type":"nominal","scale":{"domain":["Oscillateur Libre","1PLL","Reseau des PLLs"],"range":["#008000","#0000ff","#ff0000"]},"legend":null}
}},
{"data":{"name":"noise"},
"transform":[{"filter":"datum.f >= 129"}],
"mark":{"type":"line","strokeWidth":1.5,"clip":true},
"encoding":{
"x":{"field":"f","type":"quantitative","scale":{"type":"log","domain":[24.9,14060],"nice":false},"axis":null},
"y":{"field":"b","type":"quantitative","scale":{"domain":[-193.2,-71.2],"nice":false,"zero":false},"axis":null},
"color":{"datum":"1PLL","type":"nominal","scale":{"domain":["Oscillateur Libre","1PLL","Reseau des PLLs"],"range":["#008000","#0000ff","#ff0000"]},"legend":null}
}},
{"data":{"name":"noise"},
"transform":[{"filter":"datum.f <= 132"}],
"mark":{"type":"line","strokeWidth":1,"clip":true},
"encoding":{
"x":{"field":"f","type":"quantitative","scale":{"type":"log","domain":[24.9,14060],"nice":false},"axis":null},
"y":{"field":"r","type":"quantitative","scale":{"domain":[-193.2,-71.2],"nice":false,"zero":false},"axis":null},
"color":{"datum":"Reseau des PLLs","type":"nominal","scale":{"domain":["Oscillateur Libre","1PLL","Reseau des PLLs"],"range":["#008000","#0000ff","#ff0000"]},"legend":null}
}},
{"data":{"name":"noise"},
"transform":[{"filter":"datum.f >= 129"}],
"mark":{"type":"line","strokeWidth":1.5,"clip":true},
"encoding":{
"x":{"field":"f","type":"quantitative","scale":{"type":"log","domain":[24.9,14060],"nice":false},"axis":null},
"y":{"field":"r","type":"quantitative","scale":{"domain":[-193.2,-71.2],"nice":false,"zero":false},"axis":null},
"color":{"datum":"Reseau des PLLs","type":"nominal","scale":{"domain":["Oscillateur Libre","1PLL","Reseau des PLLs"],"range":["#008000","#0000ff","#ff0000"]},"legend":null}
}},
{"data":{"name":"dashes"},
"mark":{"type":"rule","strokeDash":[14,11.5],"strokeWidth":2,"color":"black"},
"encoding":{
"x":{"field":"x1","type":"quantitative","scale":{"type":"log","domain":[24.9,14060],"nice":false},
"axis":{"orient":"top","values":[30,40,50,60,70,80,90,100,200,300,400,500,600,700,800,900,1000,2000,3000,4000,5000,6000,7000,8000,9000,10000],"grid":false,"labels":false,"title":null,
"tickSize":{"condition":{"test":"datum.value==100||datum.value==1000||datum.value==10000","value":-7},"value":-4}}},
"x2":{"field":"x2"},
"y":{"field":"y1","type":"quantitative","scale":{"domain":[-193.2,-71.2],"nice":false,"zero":false},"axis":null},
"y2":{"field":"y2"}
}},
{"data":{"name":"arrows"},
"mark":{"type":"rule","strokeWidth":1.5,"color":"black"},
"encoding":{
"x":{"field":"x1","type":"quantitative","scale":{"type":"log","domain":[24.9,14060],"nice":false},"axis":null},
"x2":{"field":"x2"},
"y":{"field":"y1","type":"quantitative","scale":{"domain":[-193.2,-71.2],"nice":false,"zero":false},"axis":null},
"y2":{"field":"y2"}
}},
{"data":{"name":"arrows"},
"transform":[{"filter":"datum.id=='a1'"}],
"mark":{"type":"point","shape":"M0,0L-0.7,2L0,1.6L0.7,2Z","angle":208.75,"size":450,"filled":true,"color":"black","opacity":1,"strokeWidth":0},
"encoding":{
"x":{"field":"x2","type":"quantitative","scale":{"type":"log","domain":[24.9,14060],"nice":false},"axis":null},
"y":{"field":"y2","type":"quantitative","scale":{"domain":[-193.2,-71.2],"nice":false,"zero":false},"axis":null}
}},
{"data":{"name":"arrows"},
"transform":[{"filter":"datum.id=='a2'"}],
"mark":{"type":"point","shape":"M0,0L-0.7,2L0,1.6L0.7,2Z","angle":155.2,"size":450,"filled":true,"color":"black","opacity":1,"strokeWidth":0},
"encoding":{
"x":{"field":"x2","type":"quantitative","scale":{"type":"log","domain":[24.9,14060],"nice":false},"axis":null},
"y":{"field":"y2","type":"quantitative","scale":{"domain":[-193.2,-71.2],"nice":false,"zero":false},"axis":null}
}},
{"data":{"name":"arrows"},
"transform":[{"filter":"datum.id=='a3'"}],
"mark":{"type":"point","shape":"M0,0L-0.7,2L0,1.6L0.7,2Z","angle":298.6,"size":450,"filled":true,"color":"black","opacity":1,"strokeWidth":0},
"encoding":{
"x":{"field":"x2","type":"quantitative","scale":{"type":"log","domain":[24.9,14060],"nice":false},"axis":null},
"y":{"field":"y2","type":"quantitative","scale":{"domain":[-193.2,-71.2],"nice":false,"zero":false},"axis":null}
}},
{"data":{"name":"labels"},
"mark":{"type":"text","align":"left","baseline":"alphabetic","fontSize":24.5,"font":"Liberation Sans","color":"black"},
"encoding":{
"x":{"field":"x","type":"quantitative","scale":{"type":"log","domain":[24.9,14060],"nice":false},"axis":null},
"y":{"field":"y","type":"quantitative","scale":{"domain":[-193.2,-71.2],"nice":false,"zero":false},"axis":null},
"text":{"field":"t"}
}}
]
}
